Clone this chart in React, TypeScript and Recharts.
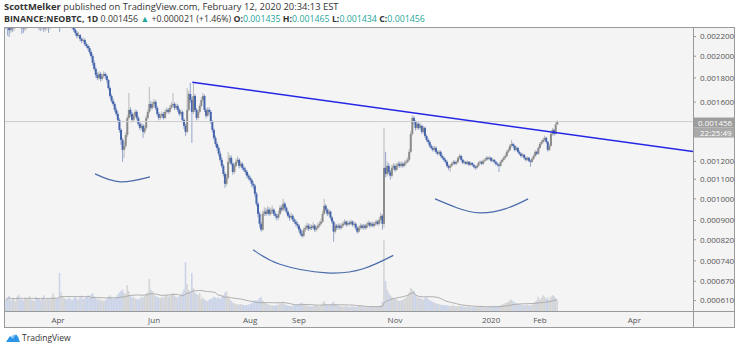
import { Bar, ComposedChart, Line, ReferenceLine, XAxis, YAxis } from 'recharts'

const FONT = '"Open Sans", "Noto Sans", sans-serif'
const DAY = 86400000
const START = Date.UTC(2019, 1, 27) // first daily candle shown
const APR1 = Date.UTC(2019, 3, 1)

// prices are in 1e-6 BTC
const FIRST_OPEN = 2350
const closes = [
  2330, 2300, 2270, 2310, 2290, 2320, 2340, 2360, 2350, 2330, 2300, 2290, 2310, 2340, 2360, 2380, 2370, 2390, 2400, 2380, 2360, 2330, 2300, 2320, 2290, 2310, 2330, 2300, 2320, 2350, 2370, 2390, 2380, 2360, 2330, 2350, 2380, 2400, 2390, 2370, 2350, 2330, 2310,
  2272, 2239, 2206, 2217, 2175, 2154, 2164, 2122, 2102, 2082, 2042, 2002, 1936, 1880, 1826, 1800, 1835, 1791, 1817, 1835, 1817, 1782, 1714, 1649, 1610, 1586, 1541, 1511, 1468, 1398, 1332,
  1269, 1294, 1364, 1482, 1541, 1511, 1468, 1497, 1526, 1482, 1440, 1412, 1426, 1385, 1412, 1482, 1526, 1586, 1556, 1586,
  1602, 1556, 1511, 1482, 1497, 1511, 1482, 1526, 1541, 1526, 1556, 1579, 1586, 1556, 1571, 1541, 1511, 1526, 1468, 1426,
  1385, 1541, 1665, 1617, 1526, 1649, 1541, 1482, 1526, 1571, 1617, 1649, 1541, 1497, 1541, 1526, 1454, 1398, 1345, 1306,
  1281, 1245, 1209, 1174, 1129, 1076,
  1108, 1197, 1221, 1186, 1140, 1174, 1197, 1209, 1174, 1186, 1163, 1152, 1140, 1119, 1108, 1097, 1076, 1066, 1025, 977,
  930, 886, 861, 930, 940, 930, 949, 930, 940, 949, 930, 921, 913, 930, 958, 949, 977, 958, 940, 921,
  913, 921, 904, 895, 886, 878, 861, 844, 836, 861, 869, 878, 865, 873, 869, 878, 861, 869, 878, 886,
  895, 930, 967, 949, 930, 940, 913, 895, 853, 878, 869, 878, 869, 878, 886, 895, 882, 890, 886, 895,
  882, 886, 869, 853, 869, 878, 869, 878, 869, 882, 890, 878, 886, 878, 886, 895, 886, 904, 921, 886,
  1163, 1129, 1174, 1140, 1119, 1163, 1174, 1152, 1174, 1186, 1174, 1186, 1174, 1191, 1197, 1209, 1257, 1371, 1482, 1454,
  1412, 1440, 1412, 1426, 1385, 1412, 1358, 1332, 1319, 1294, 1281, 1269, 1281, 1257, 1245, 1257, 1232, 1221, 1209, 1197,
  1174, 1163, 1174, 1186, 1197, 1186, 1197, 1221, 1232, 1209, 1191, 1197, 1186, 1197, 1180, 1191, 1180, 1169, 1163, 1174,
  1191, 1197, 1186, 1203, 1209, 1221, 1215, 1221, 1203, 1209, 1197, 1186, 1180, 1174, 1197, 1209, 1221, 1232, 1257, 1269,
  1294, 1306, 1294, 1269, 1281, 1257, 1245, 1232, 1239, 1221, 1209, 1221, 1203, 1197, 1215, 1232, 1257, 1245, 1281, 1306,
  1319, 1332, 1345, 1319, 1269, 1294, 1371, 1398, 1371, 1435, 1456,
]
const highs = [
  2390, 2360, 2330, 2350, 2340, 2360, 2380, 2400, 2400, 2380, 2360, 2330, 2350, 2370, 2400, 2420, 2420, 2430, 2440, 2430, 2410, 2390, 2360, 2350, 2350, 2340, 2370, 2360, 2350, 2380, 2410, 2430, 2420, 2410, 2390, 2380, 2410, 2440, 2430, 2420, 2400, 2380, 2360,
  2330, 2290, 2260, 2250, 2230, 2190, 2190, 2180, 2140, 2120, 2100, 2060, 2020, 1960, 1900, 1850, 1860, 1850, 1840, 1860, 1850, 1830, 1790, 1730, 1665, 1630, 1600, 1560, 1530, 1480, 1410,
  1345, 1320, 1380, 1500, 1673, 1560, 1525, 1515, 1545, 1540, 1495, 1455, 1445, 1440, 1430, 1500, 1545, 1723, 1610, 1605,
  1625, 1615, 1570, 1525, 1515, 1530, 1525, 1545, 1560, 1555, 1575, 1600, 1673, 1600, 1590, 1585, 1555, 1545, 1535, 1480,
  1440, 1714, 1690, 1757, 1640, 1765, 1665, 1555, 1545, 1590, 1640, 1673, 1660, 1555, 1560, 1560, 1540, 1465, 1410, 1360,
  1320, 1295, 1260, 1225, 1185, 1140,
  1130, 1257, 1240, 1235, 1195, 1190, 1215, 1230, 1220, 1200, 1195, 1175, 1165, 1150, 1130, 1120, 1105, 1090, 1075, 1035,
  985, 940, 895, 945, 960, 955, 965, 960, 958, 968, 955, 940, 930, 945, 970, 970, 1000, 985, 965, 945,
  930, 935, 928, 912, 905, 895, 885, 868, 855, 870, 880, 890, 888, 885, 882, 892, 885, 878, 890, 898,
  908, 945, 1000, 975, 955, 952, 945, 920, 900, 888, 885, 888, 886, 890, 897, 906, 900, 900, 898, 905,
  900, 896, 892, 875, 878, 888, 885, 886, 885, 892, 900, 896, 895, 894, 896, 905, 902, 915, 935, 928,
  1412, 1257, 1200, 1190, 1150, 1180, 1190, 1185, 1190, 1200, 1198, 1200, 1195, 1205, 1212, 1225, 1275, 1390, 1500, 1495,
  1465, 1460, 1450, 1445, 1435, 1425, 1420, 1368, 1345, 1330, 1305, 1292, 1295, 1290, 1265, 1268, 1265, 1242, 1230, 1218,
  1205, 1182, 1185, 1195, 1208, 1205, 1206, 1230, 1245, 1238, 1215, 1206, 1203, 1205, 1202, 1198, 1196, 1186, 1176, 1182,
  1200, 1206, 1204, 1212, 1220, 1232, 1228, 1232, 1226, 1218, 1214, 1203, 1194, 1188, 1205, 1218, 1232, 1245, 1268, 1282,
  1306, 1332, 1315, 1300, 1292, 1288, 1265, 1252, 1250, 1245, 1228, 1230, 1226, 1210, 1225, 1242, 1268, 1265, 1292, 1318,
  1330, 1345, 1360, 1352, 1325, 1305, 1385, 1412, 1405, 1448, 1465,
]
const lows = [
  2280, 2210, 2195, 2240, 2250, 2260, 2290, 2310, 2320, 2290, 2230, 2240, 2260, 2280, 2310, 2330, 2340, 2350, 2360, 2350, 2320, 2270, 2260, 2270, 2250, 2260, 2270, 2240, 2280, 2300, 2320, 2340, 2350, 2320, 2250, 2290, 2330, 2350, 2360, 2340, 2320, 2300, 2280,
  2250, 2210, 2180, 2190, 2150, 2130, 2140, 2100, 2080, 2060, 2020, 1980, 1910, 1860, 1800, 1780, 1785, 1770, 1775, 1800, 1795, 1760, 1700, 1630, 1595, 1570, 1525, 1495, 1450, 1380, 1300,
  1197, 1221, 1280, 1350, 1470, 1490, 1450, 1455, 1485, 1465, 1425, 1395, 1400, 1345, 1370, 1400, 1470, 1515, 1540, 1545,
  1570, 1540, 1495, 1465, 1470, 1485, 1470, 1475, 1515, 1510, 1515, 1545, 1565, 1540, 1545, 1525, 1495, 1500, 1450, 1405,
  1358, 1375, 1530, 1595, 1313, 1510, 1525, 1465, 1470, 1515, 1560, 1600, 1525, 1480, 1490, 1510, 1440, 1380, 1330, 1290,
  1265, 1230, 1195, 1160, 1115, 1055,
  1066, 1100, 1185, 1175, 1125, 1130, 1165, 1190, 1160, 1165, 1150, 1140, 1125, 1105, 1095, 1085, 1060, 1050, 1010, 965,
  915, 870, 853, 855, 920, 920, 925, 920, 922, 930, 920, 910, 900, 905, 925, 940, 940, 945, 930, 912,
  900, 905, 895, 885, 875, 868, 850, 835, 828, 830, 852, 860, 856, 858, 860, 862, 852, 853, 862, 870,
  878, 890, 925, 940, 920, 922, 905, 885, 812, 845, 860, 862, 860, 862, 870, 880, 874, 876, 878, 880,
  874, 875, 860, 844, 848, 862, 862, 862, 860, 864, 875, 870, 872, 870, 872, 880, 878, 880, 898, 861,
  870, 1110, 1115, 1125, 1097, 1110, 1150, 1140, 1145, 1165, 1163, 1165, 1163, 1168, 1180, 1188, 1200, 1250, 1360, 1435,
  1395, 1400, 1398, 1400, 1370, 1375, 1345, 1320, 1305, 1282, 1270, 1258, 1260, 1245, 1235, 1238, 1222, 1210, 1200, 1188,
  1165, 1150, 1140, 1168, 1178, 1178, 1180, 1190, 1212, 1200, 1183, 1184, 1178, 1180, 1172, 1174, 1172, 1160, 1152, 1156,
  1168, 1184, 1178, 1180, 1196, 1202, 1206, 1208, 1195, 1196, 1188, 1176, 1170, 1140, 1168, 1190, 1200, 1212, 1225, 1248,
  1262, 1285, 1282, 1260, 1262, 1248, 1236, 1222, 1225, 1212, 1200, 1202, 1195, 1169, 1190, 1208, 1226, 1236, 1240, 1272,
  1298, 1310, 1322, 1308, 1258, 1262, 1288, 1360, 1358, 1365, 1434,
]
// daily volume, thousands of NEO
const volumes = [
  160, 190, 210, 150, 170, 180, 140, 200, 230, 170, 160, 150, 190, 170, 180, 210, 160, 150, 140, 200, 180, 170, 150, 190, 220, 160, 170, 180, 150, 200, 250, 190, 170, 180, 535, 260, 200, 180, 170, 160, 190, 170, 150,
  180, 200, 170, 160, 190, 210, 170, 180, 200, 220, 190, 230, 250, 210, 180, 160, 170, 150, 160, 140, 150, 170, 200, 220, 190, 170, 180, 200, 230, 260, 280,
  300, 260, 240, 365, 280, 220, 190, 200, 180, 170, 160, 180, 200, 190, 210, 240, 260, 450, 300, 280,
  230, 210, 200, 190, 180, 200, 190, 210, 230, 200, 210, 230, 250, 220, 200, 190, 210, 230, 260, 300,
  690, 380, 300, 280, 535, 320, 260, 240, 220, 250, 170, 190, 160, 150, 140, 160, 170, 180, 200, 190,
  180, 190, 170, 200, 220, 260,
  280, 200, 170, 140, 120, 110, 100, 95, 90, 100, 90, 85, 80, 85, 90, 100, 110, 130, 150, 140,
  160, 180, 200, 150, 120, 110, 100, 90, 85, 80, 75, 80, 85, 90, 110, 100, 130, 95, 85, 80,
  75, 70, 75, 80, 85, 90, 95, 110, 120, 100, 90, 80, 75, 70, 65, 70, 75, 80, 70, 65,
  70, 110, 140, 100, 90, 80, 85, 110, 130, 100, 90, 75, 70, 65, 60, 65, 70, 60, 55, 60,
  65, 60, 55, 60, 70, 75, 65, 60, 55, 60, 55, 60, 65, 60, 55, 60, 65, 70, 80, 130,
  1000, 420, 300, 260, 220, 200, 180, 170, 160, 150, 140, 150, 160, 170, 190, 220, 260, 325, 300, 280,
  230, 200, 180, 190, 170, 160, 180, 200, 170, 150, 140, 130, 120, 110, 100, 95, 90, 85, 80, 85,
  80, 75, 70, 75, 80, 70, 65, 70, 75, 70, 65, 60, 55, 60, 65, 55, 50, 55, 60, 55,
  60, 65, 70, 60, 55, 50, 55, 60, 65, 70, 75, 70, 65, 70, 80, 90, 100, 110, 120, 130,
  150, 160, 140, 120, 110, 100, 95, 90, 85, 80, 85, 90, 80, 75, 90, 110, 130, 150, 200, 160,
  180, 220, 200, 170, 190, 160, 200, 225, 210, 180, 150,
]

// drawings: [days from Apr 1 2019, price in 1e-6 BTC]
const trendLine = [
  [85.3, 1762],
  [403.2, 1259],
]
const arcLeft = [
  [23.5, 1129],
  [39.5, 1086],
  [58.4, 1113],
]
const arcMiddle = [
  [123.9, 781],
  [140.9, 728],
  [170.6, 698],
  [193.8, 712],
  [212.9, 760],
]
const arcRight = [
  [239.4, 1000],
  [253.2, 958],
  [267.9, 934],
  [284.9, 955],
  [298.5, 1000],
]

const Y_TICKS = [0.0022, 0.002, 0.0018, 0.0016, 0.0012, 0.0011, 0.001, 0.0009, 0.00082, 0.00074, 0.00067, 0.00061]
const X_TICKS = [
  Date.UTC(2019, 3, 1), Date.UTC(2019, 5, 1), Date.UTC(2019, 7, 1), Date.UTC(2019, 8, 1),
  Date.UTC(2019, 10, 1), Date.UTC(2020, 0, 1), Date.UTC(2020, 1, 1), Date.UTC(2020, 3, 1),
]
const MONTHS = ['Jan', 'Feb', 'Mar', 'Apr', 'May', 'Jun', 'Jul', 'Aug', 'Sep', 'Oct', 'Nov', 'Dec']
const COUNTDOWN = '22:25:49'

const UP = '#8b8b8b'
const DOWN = '#4665ab'
const X_DOMAIN = [APR1 - 34.3 * DAY, APR1 + 403.2 * DAY]
const Y_DOMAIN = [0.00058, 0.002305]

const candles = closes.map((c, i) => {
  const from = Math.max(0, i - 19)
  const win = volumes.slice(from, i + 1)
  return {
    t: START + i * DAY,
    open: (i === 0 ? FIRST_OPEN : closes[i - 1]) / 1e6,
    close: c / 1e6,
    high: highs[i] / 1e6,
    low: lows[i] / 1e6,
    volume: volumes[i],
    volMa: win.reduce((s, v) => s + v, 0) / win.length,
  }
})
const last = candles[candles.length - 1]
const prev = candles[candles.length - 2]

const toPoints = (pts: number[][]) => pts.map(([d, p]) => ({ t: APR1 + d * DAY, p: p / 1e6 }))

function Candle(props: any) {
  const { x, y, width, height, payload } = props
  if (!payload || y == null || !isFinite(y)) return null
  const top = Math.min(y, y + height)
  const h = Math.abs(height)
  const lh = Math.log(payload.high)
  const ll = Math.log(payload.low)
  const toY = (v: number) => top + (h * (lh - Math.log(v))) / (lh - ll)
  const up = payload.close >= payload.open
  const color = up ? UP : DOWN
  const cx = x + width / 2
  const b0 = toY(Math.max(payload.open, payload.close))
  const b1 = toY(Math.min(payload.open, payload.close))
  return (
    <g>
      <line x1={cx} x2={cx} y1={top} y2={top + h} stroke={color} strokeOpacity={0.55} />
      <rect x={cx - 1} y={b0} width={2} height={Math.max(1, b1 - b0)} fill={color} />
    </g>
  )
}

function VolumeBar(props: any) {
  const { x, y, width, height, payload } = props
  if (!payload) return null
  const up = payload.close >= payload.open
  return (
    <rect
      x={x + width / 2 - 0.8}
      y={y}
      width={1.6}
      height={Math.max(0, height)}
      fill={up ? '#cdcdcd' : '#c0cce5'}
      fillOpacity={0.8}
    />
  )
}

function PriceTag(props: any) {
  const vb = props.viewBox
  if (!vb) return null
  const x = vb.x + vb.width + 1
  const y = vb.y
  return (
    <g fontFamily={FONT} fontSize={8}>
      <rect x={x} y={y - 4} width={41} height={10} fill="#9d9d9d" />
      <text x={x + 4} y={y + 4} fill="#fff">
        {last.close.toFixed(6)}
      </text>
      <rect x={x} y={y + 6} width={41} height={10} fill="#a9a9a9" />
      <text x={x + 6} y={y + 14} fill="#fff">
        {COUNTDOWN}
      </text>
    </g>
  )
}

const fmtTime = (t: number) => {
  const d = new Date(t)
  return d.getUTCMonth() === 0 ? String(d.getUTCFullYear()) : MONTHS[d.getUTCMonth()]
}

const teal = { color: '#26a69a' }

export default function App() {
  const change = last.close - prev.close
  return (
    <div
      style={{
        position: 'fixed',
        left: 0,
        top: 0,
        width: 740,
        height: 351,
        background: '#fff',
        fontFamily: FONT,
        overflow: 'hidden',
        color: '#333',
      }}
    >
      <div style={{ position: 'absolute', left: 4, top: 1, fontSize: 9.4, lineHeight: '12px', whiteSpace: 'nowrap' }}>
        <span style={{ fontWeight: 700 }}>ScottMelker</span> published on TradingView.com, February 12, 2020 20:34:13 EST
      </div>
      <div style={{ position: 'absolute', left: 4, top: 13.5, fontSize: 8.8, lineHeight: '11px', whiteSpace: 'nowrap' }}>
        <span style={{ fontWeight: 700 }}>BINANCE:NEOBTC, 1D</span> {last.close.toFixed(6)}{' '}
        <span style={teal}>▲</span> +{change.toFixed(6)} (+{((change / prev.close) * 100).toFixed(2)}%){' '}
        <b>O:</b>
        <span style={teal}>{last.open.toFixed(6)}</span> <b>H:</b>
        <span style={teal}>{last.high.toFixed(6)}</span> <b>L:</b>
        <span style={teal}>{last.low.toFixed(6)}</span> <b>C:</b>
        <span style={teal}>{last.close.toFixed(6)}</span>
      </div>

      <div style={{ position: 'absolute', left: 4, top: 27, width: 731, height: 301, background: '#f4f4f4' }} />
      <div style={{ position: 'absolute', left: 4, top: 27 }}>
        <ComposedChart width={731} height={301} data={candles} margin={{ top: 0, right: 0, bottom: 0, left: 0 }}>
          <XAxis
            dataKey="t"
            type="number"
            domain={X_DOMAIN}
            allowDataOverflow
            ticks={X_TICKS}
            interval={0}
            tickFormatter={fmtTime}
            axisLine={false}
            tickLine={false}
            tickSize={4}
            tickMargin={2}
            height={17}
            tick={{ fontSize: 8, fill: '#555', fontFamily: FONT }}
          />
          <XAxis xAxisId="v" dataKey="t" type="number" domain={X_DOMAIN} allowDataOverflow hide />
          <YAxis
            orientation="right"
            width={42}
            type="number"
            scale="log"
            domain={Y_DOMAIN}
            allowDataOverflow
            ticks={Y_TICKS}
            interval={0}
            tickFormatter={(v: number) => v.toFixed(6)}
            axisLine={false}
            tickLine={{ stroke: '#999' }}
            tickSize={3}
            tickMargin={4}
            tick={{ fontSize: 8, fill: '#555', fontFamily: FONT }}
          />
          <YAxis yAxisId="vol" type="number" domain={[0, 4000]} allowDataOverflow hide />

          <Bar
            xAxisId="v"
            yAxisId="vol"
            dataKey="volume"
            barSize={2}
            shape={VolumeBar}
            isAnimationActive={false}
          />
          <Line
            xAxisId="v"
            yAxisId="vol"
            dataKey="volMa"
            stroke="#adadad"
            strokeWidth={1}
            dot={false}
            isAnimationActive={false}
          />
          <ReferenceLine y={last.close} stroke="#cdcdcd" label={PriceTag} />
          <Bar
            dataKey={(d: any) => [d.low, d.high]}
            barSize={2}
            shape={Candle}
            isAnimationActive={false}
          />
          <Line
            data={toPoints(trendLine)}
            dataKey="p"
            type="linear"
            stroke="#2525e6"
            strokeWidth={1.5}
            dot={false}
            isAnimationActive={false}
          />
          {[arcLeft, arcMiddle, arcRight].map((arc, i) => (
            <Line
              key={i}
              data={toPoints(arc)}
              dataKey="p"
              type="natural"
              stroke="#4a6cab"
              strokeWidth={1.2}
              dot={false}
              isAnimationActive={false}
            />
          ))}
        </ComposedChart>
      </div>

      {/* frame */}
      <div
        style={{
          position: 'absolute',
          left: 4,
          top: 27,
          width: 731,
          height: 301,
          boxSizing: 'border-box',
          border: '1px solid #9a9a9a',
        }}
      />
      <div style={{ position: 'absolute', left: 693, top: 27, width: 1, height: 301, background: '#9a9a9a' }} />
      <div style={{ position: 'absolute', left: 4, top: 311, width: 731, height: 1, background: '#9a9a9a' }} />

      {/* footer */}
      <svg style={{ position: 'absolute', left: 5, top: 332 }} width={16} height={12}>
        <path d="M1 10 L5 4 L8 7 L11 2 L15 10 Z" fill="#2a96e6" />
        <path d="M3 10 Q2 6 6 6 Q7 2 11 3 Q15 4 14 10 Z" fill="#2a96e6" fillOpacity={0.55} />
      </svg>
      <div style={{ position: 'absolute', left: 22, top: 332, fontSize: 8.5, lineHeight: '12px', color: '#333' }}>
        TradingView
      </div>
    </div>
  )
}
